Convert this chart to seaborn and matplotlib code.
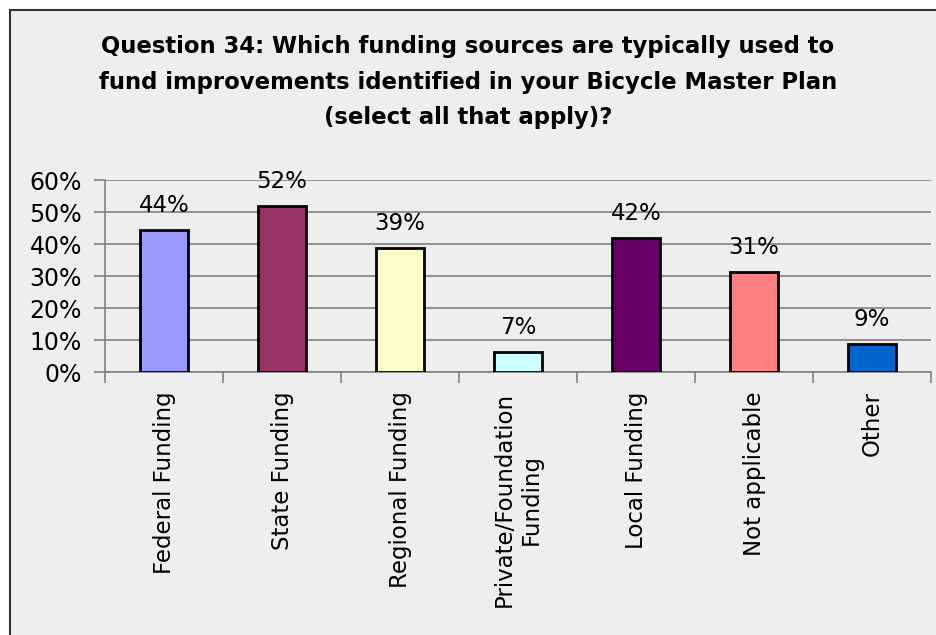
import matplotlib
matplotlib.use("Agg")
import pandas as pd
import seaborn as sns
import matplotlib.pyplot as plt
from matplotlib.patches import Rectangle
from matplotlib.ticker import PercentFormatter

# Question 34 answers
sources = ["Federal Funding", "State Funding", "Regional Funding",
           "Private/Foundation\nFunding", "Local Funding", "Not applicable", "Other"]
shares = [0.444, 0.520, 0.388, 0.064, 0.420, 0.313, 0.089]
share_labels = ["44%", "52%", "39%", "7%", "42%", "31%", "9%"]
bar_colors = ["#9999FF", "#993366", "#FFFFCC", "#CCFFFF", "#660066", "#FF8080", "#0066CC"]

df = pd.DataFrame({"Source": sources, "Share": shares})

plt.rcParams["font.family"] = ["DejaVu Sans"]
bg = "#EEEEEE"

fig = plt.figure(figsize=(9.36, 6.35), dpi=100)
fig.patch.set_facecolor("white")
# chart frame (runs off the right/bottom edge like the original)
fig.patches.append(Rectangle((9.5 / 936, -0.1), 1.2, 1.1 - 10 / 635,
                             transform=fig.transFigure, facecolor=bg,
                             edgecolor="#333333", linewidth=1.5, zorder=-5))

ax = fig.add_axes([105 / 936, 1 - 372 / 635, (931 - 105) / 936, (372 - 180) / 635])
ax.set_facecolor(bg)

sns.barplot(data=df, x="Source", y="Share", hue="Source", palette=bar_colors,
            legend=False, width=0.41, edgecolor="black", linewidth=2,
            saturation=1, ax=ax, zorder=3)

for patch, txt in zip(ax.patches, share_labels):
    ax.annotate(txt, (patch.get_x() + patch.get_width() / 2, patch.get_height()),
                xytext=(0, 9), textcoords="offset points", ha="center", va="bottom",
                fontsize=16.5, color="black")

ax.set_xlim(-0.5, 6.5)
ax.set_ylim(0, 0.6)
ax.set_yticks([i / 10 for i in range(7)])
ax.yaxis.set_major_formatter(PercentFormatter(1.0, decimals=0))
ax.grid(axis="y", color="#808080", linewidth=1.2, zorder=0)
ax.set_axisbelow(True)

ax.set_xlabel("")
ax.set_ylabel("")
ax.set_xticks(range(len(sources)))
ax.set_xticklabels(sources, rotation=90, ha="center", va="top", multialignment="center")
ax.set_xticks([i - 0.5 for i in range(len(sources) + 1)], minor=True)
ax.tick_params(axis="x", which="major", length=0, pad=14, labelsize=16.5)
ax.tick_params(axis="x", which="minor", length=8, width=1.2, color="#808080", direction="out")
ax.tick_params(axis="y", length=8, width=1.2, color="#808080", labelsize=17, pad=8.5)

for side in ["top", "right"]:
    ax.spines[side].set_visible(False)
for side in ["left", "bottom"]:
    ax.spines[side].set_color("#808080")
    ax.spines[side].set_linewidth(1.2)

fig.text(0.5, 1 - 82 / 635,
         "Question 34: Which funding sources are typically used to\n"
         "fund improvements identified in your Bicycle Master Plan\n"
         "(select all that apply)?",
         ha="center", va="center", fontsize=16.4, fontweight="bold",
         linespacing=1.7)

plt.savefig("out.png", dpi=100, facecolor=fig.get_facecolor())
plt.close()
